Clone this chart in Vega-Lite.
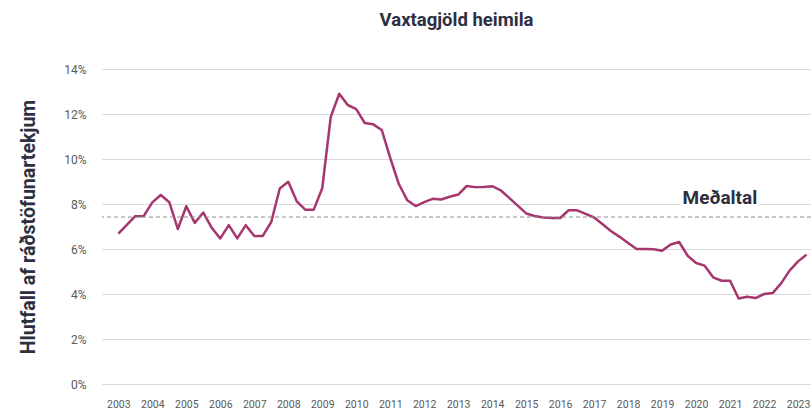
{
  "$schema": "https://vega.github.io/schema/vega-lite/v6.json",
  "width": 709,
  "height": 315,
  "autosize": {"type": "none"},
  "padding": {"left": 102, "top": 69, "right": 0, "bottom": 29},
  "background": "white",
  "title": {"text": "Vaxtagjöld heimila", "font": "Roboto", "fontSize": 18.5, "fontWeight": "bold", "color": "#2e2f40", "anchor": "middle", "offset": 34},
  "config": {"view": {"stroke": null}, "font": "Roboto", "axis": {"labelOverlap": false, "labelSeparation": 0}},
  "datasets": {
    "gogn": [
      {"ar": 2003.00, "hlutfall": 6.68}, {"ar": 2003.25, "hlutfall": 7.07}, {"ar": 2003.50, "hlutfall": 7.46}, {"ar": 2003.75, "hlutfall": 7.47},
      {"ar": 2004.00, "hlutfall": 8.07}, {"ar": 2004.25, "hlutfall": 8.40}, {"ar": 2004.50, "hlutfall": 8.08}, {"ar": 2004.75, "hlutfall": 6.89},
      {"ar": 2005.00, "hlutfall": 7.90}, {"ar": 2005.25, "hlutfall": 7.16}, {"ar": 2005.50, "hlutfall": 7.62}, {"ar": 2005.75, "hlutfall": 6.94},
      {"ar": 2006.00, "hlutfall": 6.47}, {"ar": 2006.25, "hlutfall": 7.06}, {"ar": 2006.50, "hlutfall": 6.47}, {"ar": 2006.75, "hlutfall": 7.06},
      {"ar": 2007.00, "hlutfall": 6.58}, {"ar": 2007.25, "hlutfall": 6.58}, {"ar": 2007.50, "hlutfall": 7.20}, {"ar": 2007.75, "hlutfall": 8.69},
      {"ar": 2008.00, "hlutfall": 8.99}, {"ar": 2008.25, "hlutfall": 8.12}, {"ar": 2008.50, "hlutfall": 7.75}, {"ar": 2008.75, "hlutfall": 7.75},
      {"ar": 2009.00, "hlutfall": 8.70}, {"ar": 2009.25, "hlutfall": 11.87}, {"ar": 2009.50, "hlutfall": 12.90}, {"ar": 2009.75, "hlutfall": 12.40},
      {"ar": 2010.00, "hlutfall": 12.22}, {"ar": 2010.25, "hlutfall": 11.60}, {"ar": 2010.50, "hlutfall": 11.54}, {"ar": 2010.75, "hlutfall": 11.29},
      {"ar": 2011.00, "hlutfall": 10.05}, {"ar": 2011.25, "hlutfall": 8.90}, {"ar": 2011.50, "hlutfall": 8.17}, {"ar": 2011.75, "hlutfall": 7.91},
      {"ar": 2012.00, "hlutfall": 8.08}, {"ar": 2012.25, "hlutfall": 8.23}, {"ar": 2012.50, "hlutfall": 8.20}, {"ar": 2012.75, "hlutfall": 8.32},
      {"ar": 2013.00, "hlutfall": 8.42}, {"ar": 2013.25, "hlutfall": 8.80}, {"ar": 2013.50, "hlutfall": 8.75}, {"ar": 2013.75, "hlutfall": 8.76},
      {"ar": 2014.00, "hlutfall": 8.79}, {"ar": 2014.25, "hlutfall": 8.61}, {"ar": 2014.50, "hlutfall": 8.27}, {"ar": 2014.75, "hlutfall": 7.93},
      {"ar": 2015.00, "hlutfall": 7.58}, {"ar": 2015.25, "hlutfall": 7.47}, {"ar": 2015.50, "hlutfall": 7.40}, {"ar": 2015.75, "hlutfall": 7.38},
      {"ar": 2016.00, "hlutfall": 7.38}, {"ar": 2016.25, "hlutfall": 7.72}, {"ar": 2016.50, "hlutfall": 7.72}, {"ar": 2016.75, "hlutfall": 7.56},
      {"ar": 2017.00, "hlutfall": 7.40}, {"ar": 2017.25, "hlutfall": 7.10}, {"ar": 2017.50, "hlutfall": 6.79}, {"ar": 2017.75, "hlutfall": 6.54},
      {"ar": 2018.00, "hlutfall": 6.27}, {"ar": 2018.25, "hlutfall": 6.00}, {"ar": 2018.50, "hlutfall": 6.00}, {"ar": 2018.75, "hlutfall": 5.99},
      {"ar": 2019.00, "hlutfall": 5.92}, {"ar": 2019.25, "hlutfall": 6.20}, {"ar": 2019.50, "hlutfall": 6.31}, {"ar": 2019.75, "hlutfall": 5.70},
      {"ar": 2020.00, "hlutfall": 5.38}, {"ar": 2020.25, "hlutfall": 5.26}, {"ar": 2020.50, "hlutfall": 4.74}, {"ar": 2020.75, "hlutfall": 4.59},
      {"ar": 2021.00, "hlutfall": 4.59}, {"ar": 2021.25, "hlutfall": 3.80}, {"ar": 2021.50, "hlutfall": 3.88}, {"ar": 2021.75, "hlutfall": 3.82},
      {"ar": 2022.00, "hlutfall": 4.00}, {"ar": 2022.25, "hlutfall": 4.04}, {"ar": 2022.50, "hlutfall": 4.47}, {"ar": 2022.75, "hlutfall": 5.04},
      {"ar": 2023.00, "hlutfall": 5.45}, {"ar": 2023.25, "hlutfall": 5.75}
    ],
    "merki": [{"etikett": "Meðaltal"}]
  },
  "layer": [
    {"data": {"name": "gogn"},
     "mark": {"type": "line", "color": "#a6366e", "strokeWidth": 2.5, "strokeJoin": "round"},
     "encoding": {
       "x": {"field": "ar", "type": "quantitative",
         "scale": {"domain": [2002.52, 2023.38], "nice": false, "zero": false},
         "axis": {"values": [2003,2004,2005,2006,2007,2008,2009,2010,2011,2012,2013,2014,2015,2016,2017,2018,2019,2020,2021,2022,2023],
           "format": "d", "grid": false, "domain": false, "ticks": false, "labelPadding": 15,
           "labelOverlap": false, "labelFlush": false, "labelSeparation": 0,
           "labelFont": "Roboto", "labelFontSize": 10.5, "labelColor": "#595959", "title": null}},
       "y": {"field": "hlutfall", "type": "quantitative",
         "scale": {"domain": [0, 14], "nice": false},
         "axis": {"values": [0,2,4,6,8,10,12,14], "labelExpr": "datum.value + '%'",
           "grid": true, "gridColor": "#d9d9d9", "gridWidth": 1, "domain": false, "ticks": false,
           "labelPadding": 16, "labelOverlap": false, "labelFont": "Roboto", "labelFontSize": 12, "labelColor": "#595959",
           "title": "Hlutfall af ráðstöfunartekjum", "titleFont": "Roboto", "titleFontSize": 19.5,
           "titleFontWeight": "bold", "titleColor": "#2e2f40", "titleX": -74, "titleY": 157.5,
           "titleAngle": -90, "titleAlign": "center", "titleBaseline": "middle"}}
     }},
    {"data": {"name": "gogn"},
     "mark": {"type": "rule", "color": "#8c8c8c", "strokeDash": [4, 3], "strokeWidth": 1},
     "encoding": {"y": {"aggregate": "mean", "field": "hlutfall", "type": "quantitative"}}},
    {"data": {"name": "merki"},
     "mark": {"type": "text", "font": "Roboto", "fontWeight": "bold", "fontSize": 19,
       "align": "center", "baseline": "alphabetic", "fill": "white", "stroke": "white", "strokeWidth": 5},
     "encoding": {"text": {"field": "etikett", "type": "nominal"},
       "x": {"datum": 2020.7, "type": "quantitative",
         "axis": {"values": [2003,2004,2005,2006,2007,2008,2009,2010,2011,2012,2013,2014,2015,2016,2017,2018,2019,2020,2021,2022,2023],
           "format": "d", "grid": false, "domain": false, "ticks": false, "labelPadding": 15,
           "labelOverlap": false, "labelFlush": false, "labelSeparation": 0,
           "labelFont": "Roboto", "labelFontSize": 10.5, "labelColor": "#595959", "title": null}},
       "y": {"datum": 8, "type": "quantitative"}}},
    {"data": {"name": "merki"},
     "mark": {"type": "text", "font": "Roboto", "fontWeight": "bold", "fontSize": 19,
       "align": "center", "baseline": "alphabetic", "fill": "#2e2f40"},
     "encoding": {"text": {"field": "etikett", "type": "nominal"},
       "x": {"datum": 2020.7, "type": "quantitative",
         "axis": {"values": [2003,2004,2005,2006,2007,2008,2009,2010,2011,2012,2013,2014,2015,2016,2017,2018,2019,2020,2021,2022,2023],
           "format": "d", "grid": false, "domain": false, "ticks": false, "labelPadding": 15,
           "labelOverlap": false, "labelFlush": false, "labelSeparation": 0,
           "labelFont": "Roboto", "labelFontSize": 10.5, "labelColor": "#595959", "title": null}},
       "y": {"datum": 8, "type": "quantitative"}}}
  ]
}
